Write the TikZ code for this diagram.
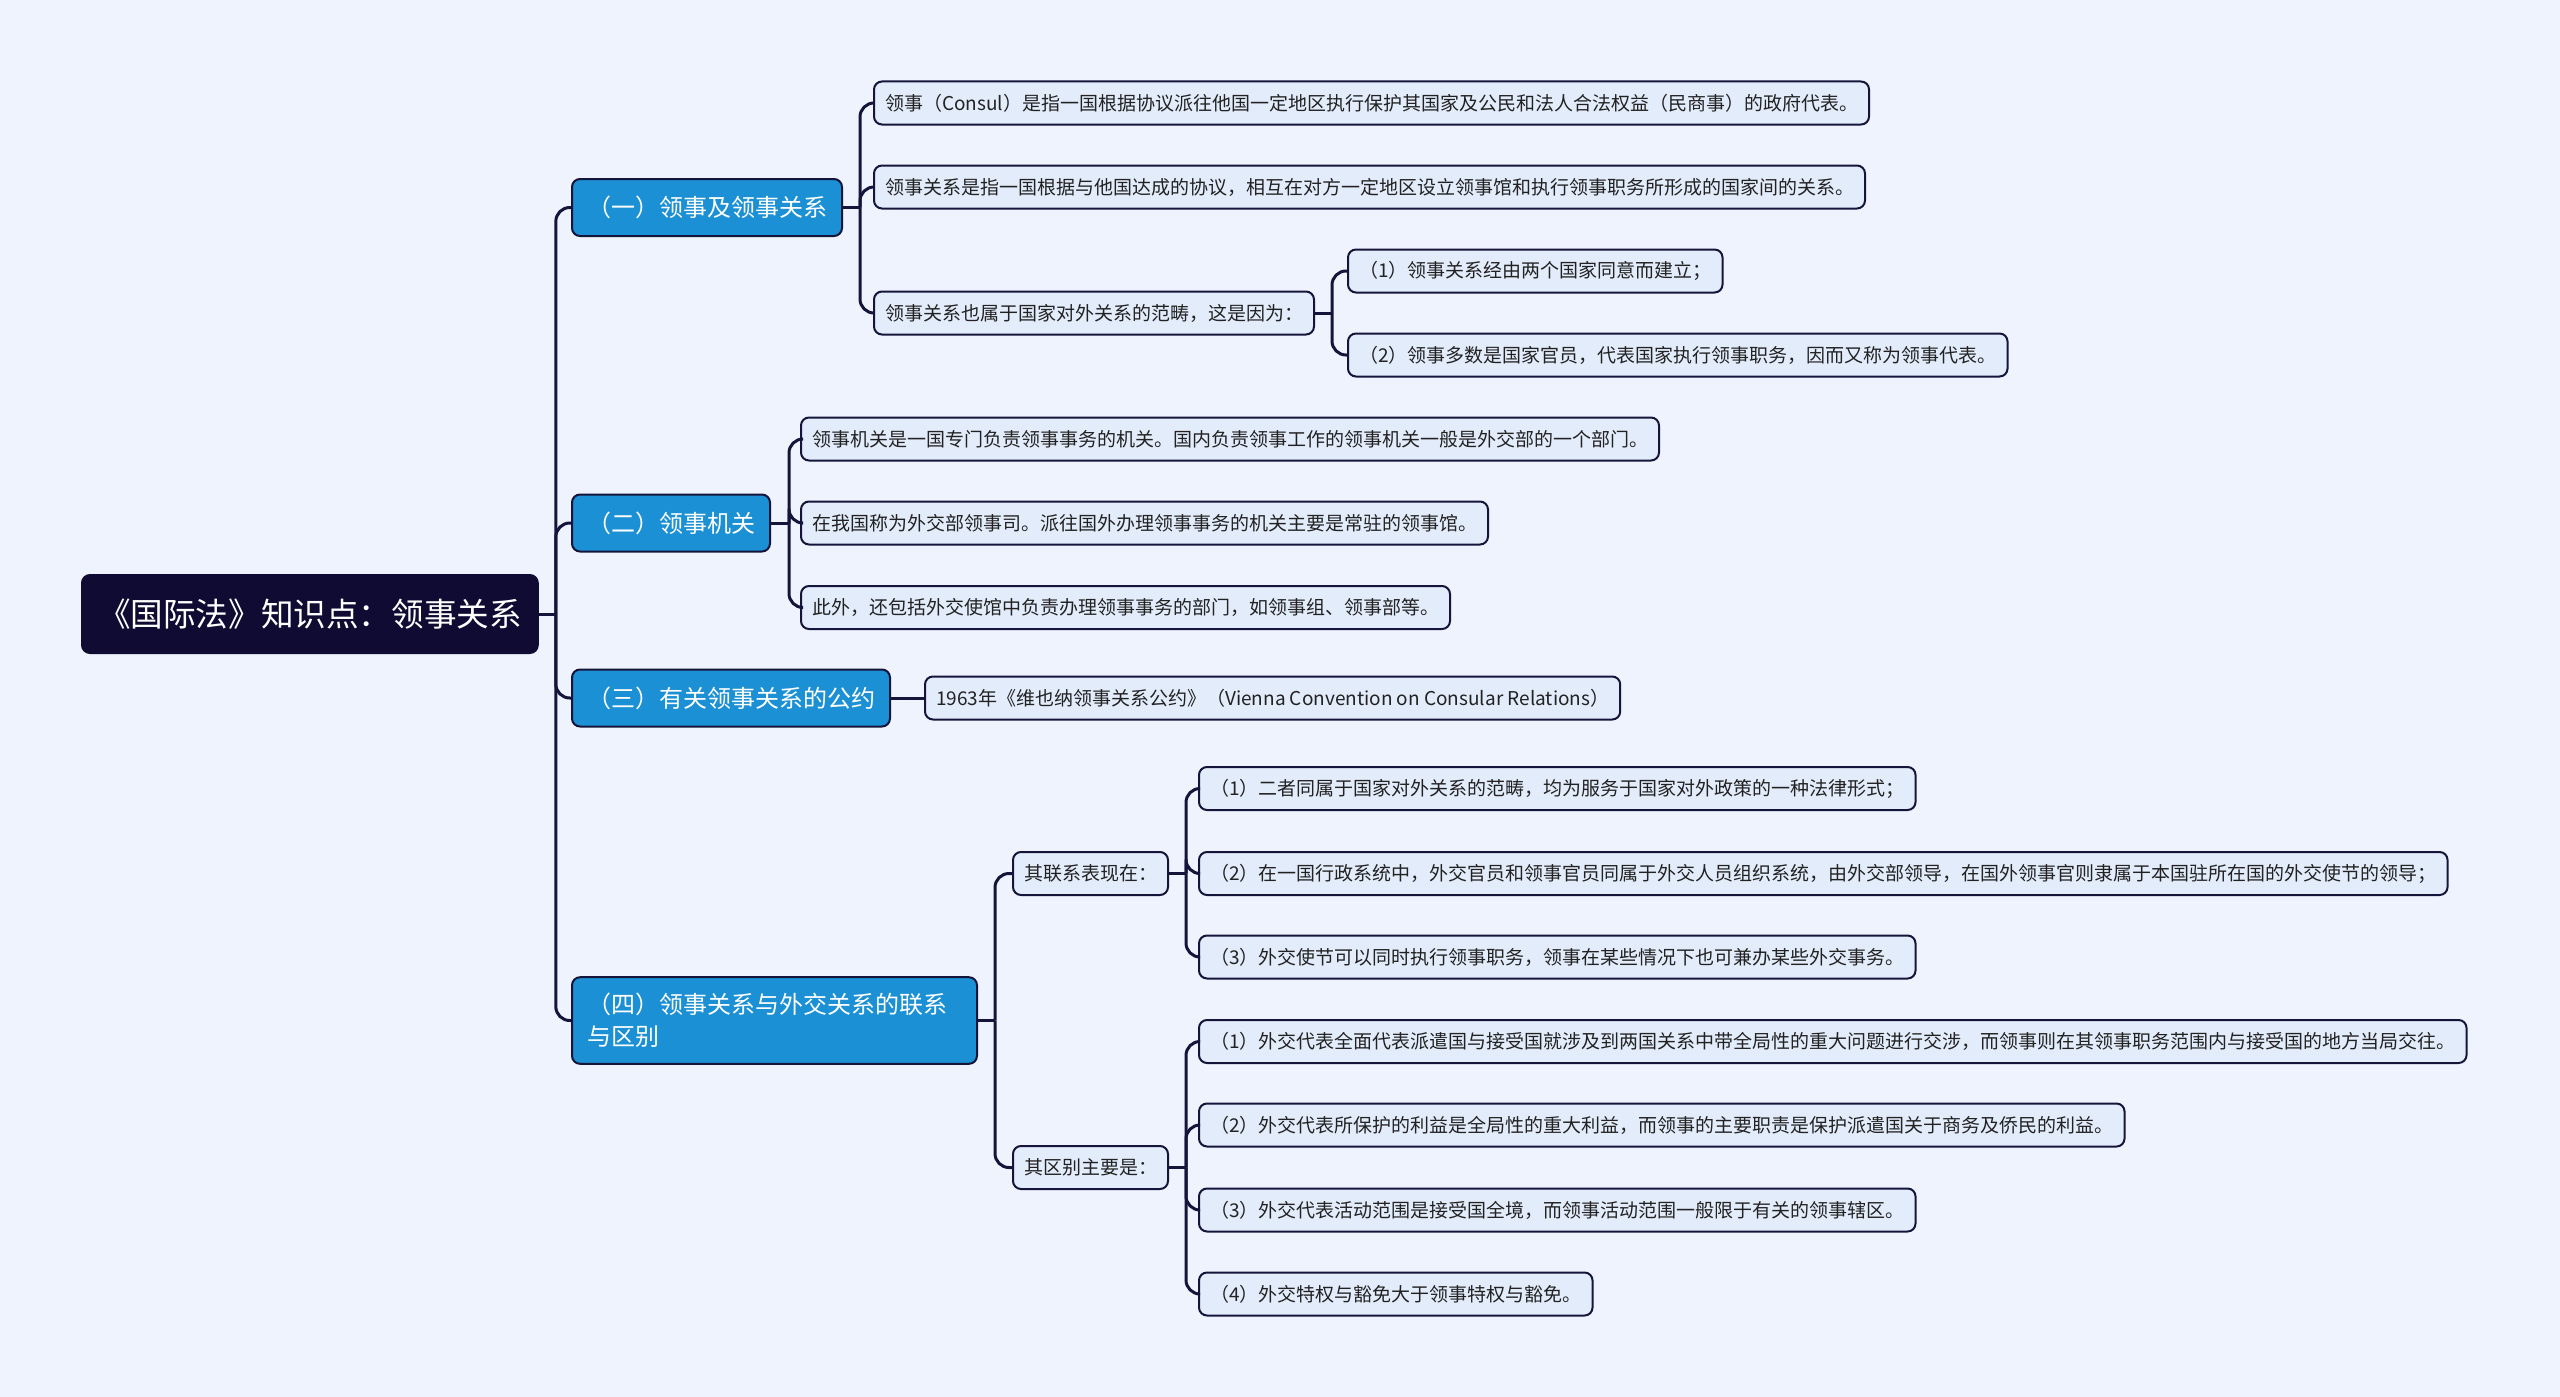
\documentclass[tikz,border=0pt]{standalone}
\usepackage{fontspec}
\setmainfont{Noto Sans CJK SC}
\definecolor{bgc}{HTML}{EEF3FD}
\definecolor{rootc}{HTML}{0F0B33}
\definecolor{branchc}{HTML}{1C90D4}
\definecolor{leafc}{HTML}{E3ECFB}
\definecolor{linec}{HTML}{15153B}
\definecolor{textc}{HTML}{222222}
\begin{document}
\begin{tikzpicture}[x=1pt,y=-1pt,
  conn/.style={draw=linec, line width=3pt},
  fork/.style={draw=linec, line width=3pt, rounded corners=14pt},
  rootbox/.style={fill=rootc, draw=rootc, line width=2pt, rounded corners=8pt, text=white,
    font=\fontsize{32.6}{38}\selectfont, inner xsep=16pt, inner ysep=0pt, minimum height=78pt, anchor=west},
  branchbox/.style={fill=branchc, draw=linec, line width=2pt, rounded corners=8pt, text=white,
    font=\fontsize{24}{32}\selectfont, inner xsep=15pt, inner ysep=0pt, minimum height=57pt, anchor=west},
  leafbox/.style={fill=leafc, draw=linec, line width=2pt, rounded corners=8pt, text=textc,
    font=\fontsize{19}{24}\selectfont, inner xsep=11pt, inner ysep=0pt, minimum height=43pt, anchor=west},
]
\fill[bgc] (0,0) rectangle (2560,1397);
\useasboundingbox (0,0) rectangle (2560,1397);

% root and branches
\node[rootbox] (root) at (81,614) {《国际法》知识点：领事关系};
\node[branchbox] (b1) at (571,207.5) {（一）领事及领事关系};
\node[branchbox] (b2) at (571,523) {（二）领事机关};
\node[branchbox] (b3) at (571,698) {（三）有关领事关系的公约};
\node[branchbox, text width=375pt, align=left, inner ysep=16pt] (b4) at (571,1020.5) {（四）领事关系与外交关系的联系\\与区别};

% branch 1 leaves
\node[leafbox] (l1a) at (873,103) {领事（Consul）是指一国根据协议派往他国一定地区执行保护其国家及公民和法人合法权益（民商事）的政府代表。};
\node[leafbox] (l1b) at (873,187) {领事关系是指一国根据与他国达成的协议，相互在对方一定地区设立领事馆和执行领事职务所形成的国家间的关系。};
\node[leafbox] (l1c) at (873,313) {领事关系也属于国家对外关系的范畴，这是因为：};
\node[leafbox] (l1c1) at (1347,271) {（1）领事关系经由两个国家同意而建立；};
\node[leafbox] (l1c2) at (1347,355) {（2）领事多数是国家官员，代表国家执行领事职务，因而又称为领事代表。};

% branch 2 leaves
\node[leafbox] (l2a) at (800,439) {领事机关是一国专门负责领事事务的机关。国内负责领事工作的领事机关一般是外交部的一个部门。};
\node[leafbox] (l2b) at (800,523) {在我国称为外交部领事司。派往国外办理领事事务的机关主要是常驻的领事馆。};
\node[leafbox] (l2c) at (800,607.5) {此外，还包括外交使馆中负责办理领事事务的部门，如领事组、领事部等。};

% branch 3 leaf
\node[leafbox] (l3a) at (924,698) {1963年《维也纳领事关系公约》（Vienna Convention on Consular Relations）};

% branch 4
\node[leafbox] (l4a) at (1012,873.5) {其联系表现在：};
\node[leafbox] (l4b) at (1012,1167.5) {其区别主要是：};
\node[leafbox] (l4a1) at (1198,788.5) {（1）二者同属于国家对外关系的范畴，均为服务于国家对外政策的一种法律形式；};
\node[leafbox] (l4a2) at (1198,873.5) {（2）在一国行政系统中，外交官员和领事官员同属于外交人员组织系统，由外交部领导，在国外领事官则隶属于本国驻所在国的外交使节的领导；};
\node[leafbox] (l4a3) at (1198,957) {（3）外交使节可以同时执行领事职务，领事在某些情况下也可兼办某些外交事务。};
\node[leafbox] (l4b1) at (1198,1041.5) {（1）外交代表全面代表派遣国与接受国就涉及到两国关系中带全局性的重大问题进行交涉，而领事则在其领事职务范围内与接受国的地方当局交往。};
\node[leafbox] (l4b2) at (1198,1125) {（2）外交代表所保护的利益是全局性的重大利益，而领事的主要职责是保护派遣国关于商务及侨民的利益。};
\node[leafbox] (l4b3) at (1198,1210) {（3）外交代表活动范围是接受国全境，而领事活动范围一般限于有关的领事辖区。};
\node[leafbox] (l4b4) at (1198,1294) {（4）外交特权与豁免大于领事特权与豁免。};

% junctions
\coordinate (jroot) at ([xshift=17pt]root.east);
\coordinate (jb1) at ([xshift=17pt]b1.east);
\coordinate (jb2) at ([xshift=18pt]b2.east);
\coordinate (jb4) at ([xshift=17pt]b4.east);
\coordinate (j1c) at ([xshift=17pt]l1c.east);
\coordinate (j4a) at ([xshift=17pt]l4a.east);
\coordinate (j4b) at ([xshift=17pt]l4b.east);

% connectors
\draw[conn] (root.east) -- (jroot);
\foreach \c in {b1,b2,b3,b4} \draw[fork] (jroot) |- (\c.west);
\draw[conn] (b1.east) -- (jb1);
\foreach \c in {l1a,l1b,l1c} \draw[fork] (jb1) |- (\c.west);
\draw[conn] (l1c.east) -- (j1c);
\foreach \c in {l1c1,l1c2} \draw[fork] (j1c) |- (\c.west);
\draw[conn] (b2.east) -- (jb2);
\foreach \c in {l2a,l2b,l2c} \draw[fork] (jb2) |- (\c.west);
\draw[conn] (b3.east) -- (l3a.west);
\draw[conn] (b4.east) -- (jb4);
\foreach \c in {l4a,l4b} \draw[fork] (jb4) |- (\c.west);
\draw[conn] (l4a.east) -- (j4a);
\foreach \c in {l4a1,l4a2,l4a3} \draw[fork] (j4a) |- (\c.west);
\draw[conn] (l4b.east) -- (j4b);
\foreach \c in {l4b1,l4b2,l4b3,l4b4} \draw[fork] (j4b) |- (\c.west);
\end{tikzpicture}
\end{document}
